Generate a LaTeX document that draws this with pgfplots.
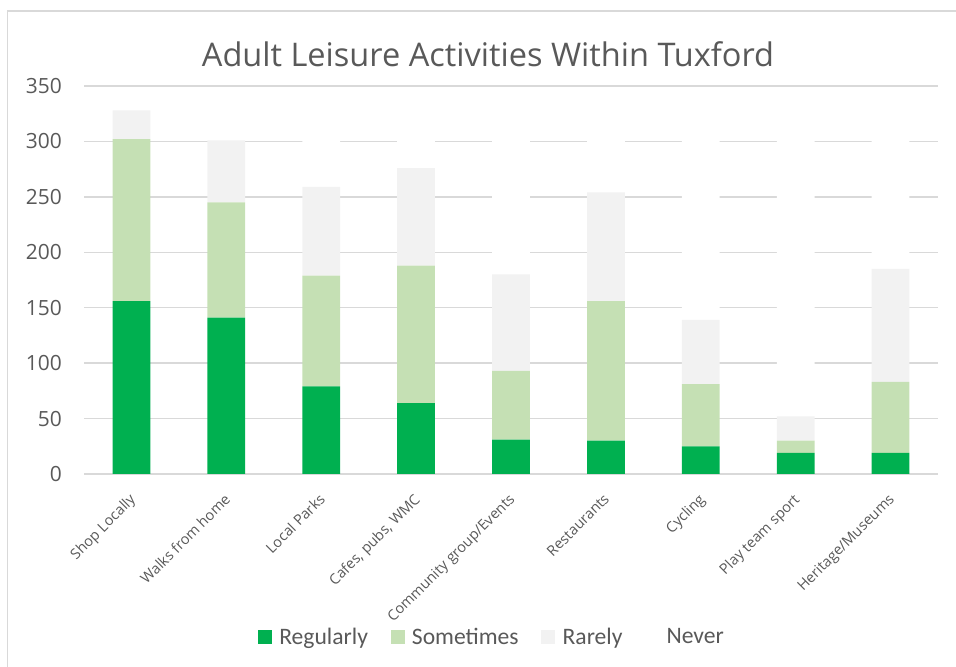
\documentclass[border=0pt]{standalone}
\usepackage{pgfplots}
\usepackage{pgfplotstable}
\pgfplotsset{compat=1.18}
\usepackage{fontspec}
\setmainfont{Open Sans}
\newfontfamily\carlito{Carlito}

\definecolor{reg}{HTML}{00B050}
\definecolor{some}{HTML}{C5E0B4}
\definecolor{rare}{HTML}{F2F2F2}
\definecolor{txt}{HTML}{595959}
\definecolor{gridc}{HTML}{D9D9D9}

% x reg some rare never
\pgfplotstableread{
x reg some rare never
0 156 146 26 2
1 141 104 56 29
2 79 100 80 71
3 64 124 88 54
4 31 62 87 150
5 30 126 98 76
6 25 56 58 191
7 19 11 22 278
8 19 64 102 145
}\data

\begin{document}
\begin{tikzpicture}
\useasboundingbox (0,0) rectangle (717pt,500.25pt);
\draw[gridc, line width=1pt] (5.5pt,0) -- (5.5pt,492pt) -- (717pt,492pt);
\node[anchor=base, text=txt, font=\fontsize{24.4}{29}\selectfont] at (366pt,450pt) {Adult Leisure Activities Within Tuxford};
\begin{axis}[
  at={(63pt,144.75pt)}, anchor=south west,
  scale only axis, width=640.5pt, height=291pt,
  ybar stacked, bar width=28.3pt,
  xmin=-0.5, xmax=8.5, ymin=0, ymax=350,
  ytick={0,50,...,350},
  xtick={0,...,8},
  xticklabels={Shop Locally, Walks from home, Local Parks, {Cafes, pubs, WMC}, Community group/Events, Restaurants, Cycling, Play team sport, Heritage/Museums},
  axis line style={draw=none},
  tick style={draw=none},
  ymajorgrids, grid style={gridc, line width=1pt},
  /pgf/number format/assume math mode=true,
  yticklabel style={font=\fontsize{15.7}{18}\selectfont, text=txt, inner sep=0pt, xshift=-16.5pt},
  xticklabel style={font=\fontsize{10.9}{12}\selectfont, text=txt, rotate=45, anchor=north east, inner sep=0pt, xshift=-11.4pt, yshift=-8.1pt},
  legend style={at={(0.478,-0.42)}, anchor=center, draw=none, fill=none,
    legend columns=4, font=\carlito\fontsize{17.7}{21}\selectfont, text=txt,
    /tikz/every even column/.append style={column sep=15pt}},
  sq/.style={legend image code/.code={\fill[##1] (0pt,-5.25pt) rectangle (10.5pt,5.25pt); \path (14pt,0pt);}},
]
\addplot[fill=reg, draw=none, sq] table[x=x, y=reg] {\data};
\addplot[fill=some, draw=none, sq] table[x=x, y=some] {\data};
\addplot[fill=rare, draw=none, sq] table[x=x, y=rare] {\data};
\addplot[fill=white, draw=none, sq] table[x=x, y=never] {\data};
\legend{Regularly, Sometimes, Rarely, Never}
\end{axis}
\end{tikzpicture}
\end{document}
